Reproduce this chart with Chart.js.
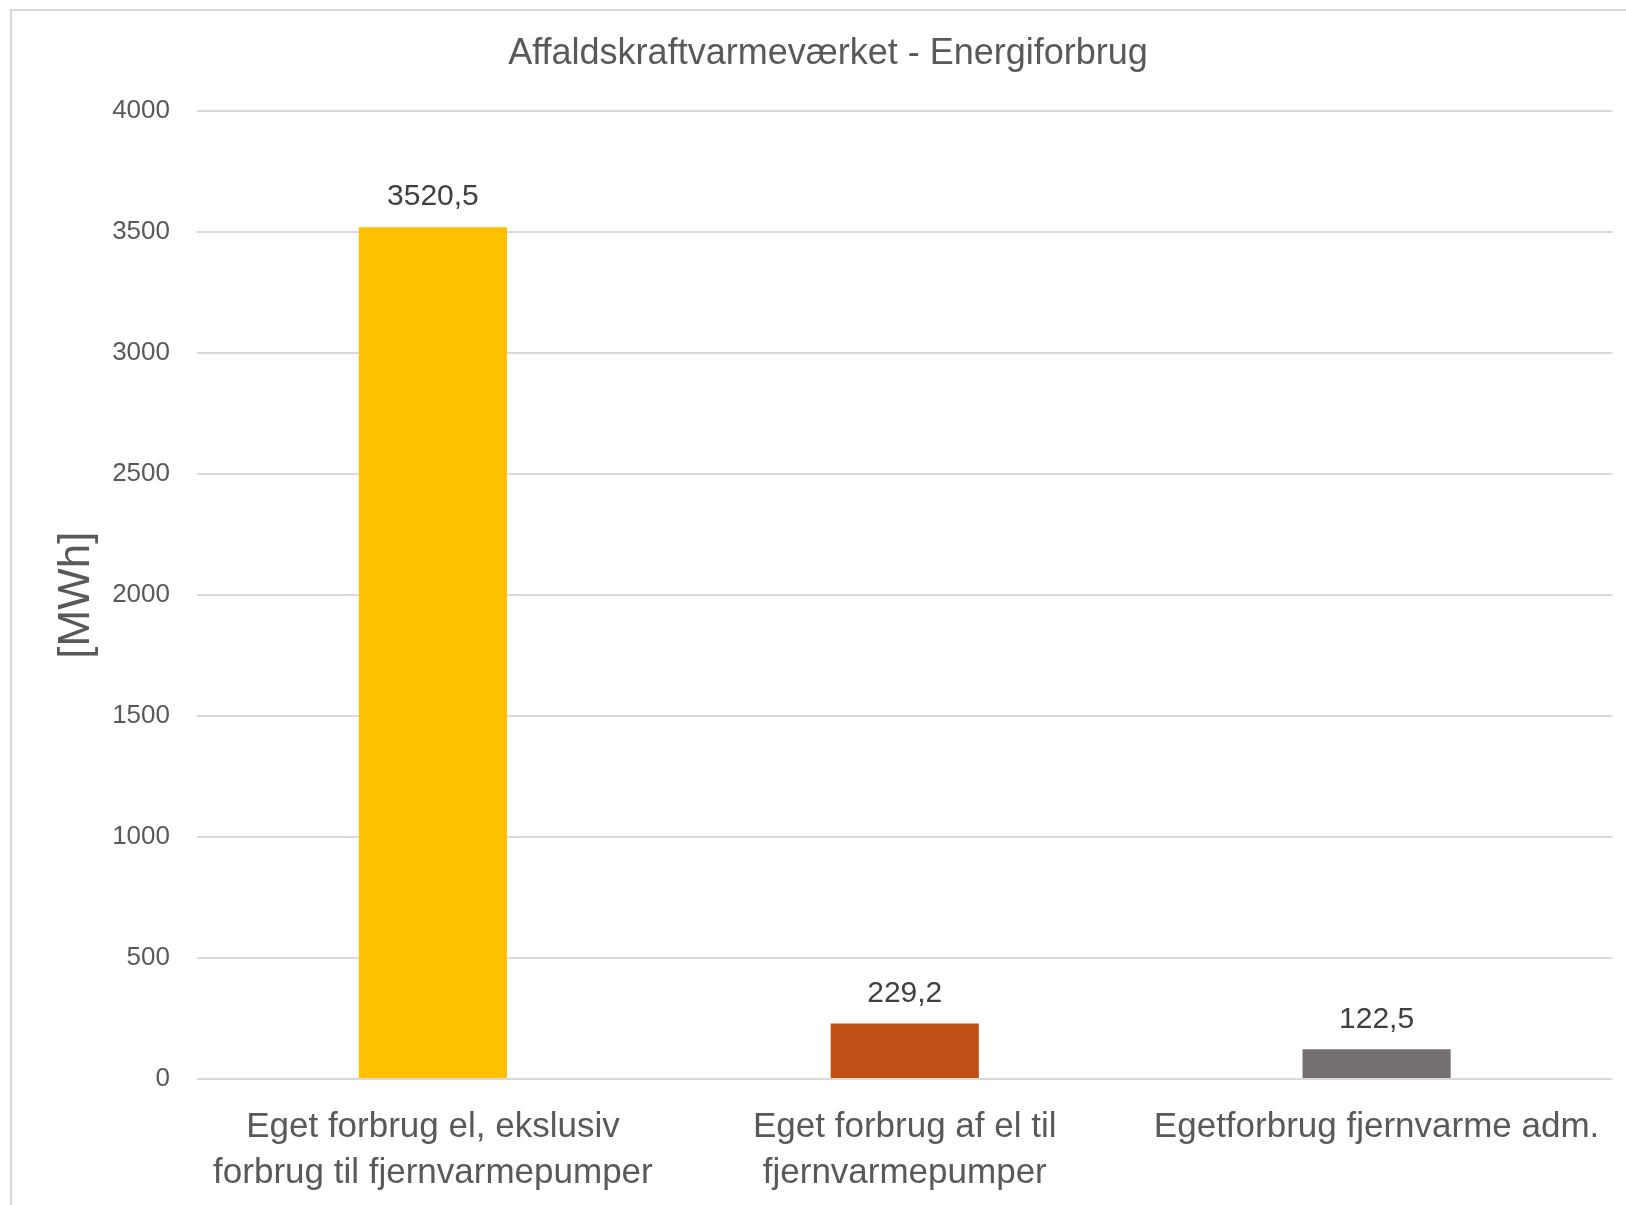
<!DOCTYPE html>
<html>
<head>
<meta charset="utf-8">
<script src="https://cdn.jsdelivr.net/npm/chart.js@4.4.1/dist/chart.umd.min.js"></script>
<style>
  html, body { margin: 0; padding: 0; background: #fff; }
  canvas { display: block; }
</style>
</head>
<body>
<canvas id="chart" width="1626" height="1205"></canvas>
<script>
// data
const categories = [
    ['Eget forbrug el, ekslusiv', 'forbrug til fjernvarmepumper'],
    ['Eget forbrug af el til', 'fjernvarmepumper'],
    'Egetforbrug fjernvarme adm.'
];
const values = [3520.5, 229.2, 122.5];
const barColors = ['#FFC000', '#C04F15', '#767171'];
const yTicks = [0, 500, 1000, 1500, 2000, 2500, 3000, 3500, 4000];

const fontFamily = '"Liberation Sans", Arial, sans-serif';
const textColor = '#595959';

// thin grey frame like the Excel chart area
const framePlugin = {
    id: 'frame',
    beforeDraw(chart) {
        const ctx = chart.ctx;
        ctx.save();
        ctx.fillStyle = '#fff';
        ctx.fillRect(0, 0, chart.width, chart.height);
        ctx.strokeStyle = '#D9D9D9';
        ctx.lineWidth = 2;
        ctx.strokeRect(11, 10, chart.width + 20, chart.height + 20);
        ctx.restore();
    }
};

// value labels above the bars (comma as decimal sign)
const valueLabels = {
    id: 'valueLabels',
    afterDatasetsDraw(chart) {
        const ctx = chart.ctx;
        const meta = chart.getDatasetMeta(0);
        ctx.save();
        ctx.font = '30px ' + fontFamily;
        ctx.fillStyle = '#404040';
        ctx.textAlign = 'center';
        ctx.textBaseline = 'middle';
        meta.data.forEach((bar, i) => {
            const txt = values[i].toFixed(1).replace('.', ',');
            ctx.fillText(txt, bar.x, bar.y - 30);
        });
        ctx.restore();
    }
};

new Chart(document.getElementById('chart').getContext('2d'), {
    type: 'bar',
    data: {
        labels: categories,
        datasets: [{
            data: values,
            backgroundColor: barColors,
            barPercentage: 1,
            categoryPercentage: 0.314
        }]
    },
    options: {
        responsive: false,
        animation: false,
        layout: { padding: { left: 40, right: 10, top: 0, bottom: 0 } },
        plugins: {
            legend: { display: false },
            tooltip: { enabled: false },
            title: {
                display: true,
                text: 'Affaldskraftvarmeværket - Energiforbrug',
                color: textColor,
                font: { family: fontFamily, size: 36, weight: 'normal', lineHeight: 1.2 },
                padding: { top: 32, bottom: 36 }
            }
        },
        scales: {
            x: {
                grid: { display: false, drawTicks: false },
                border: { display: false },
                ticks: {
                    color: textColor,
                    font: { family: fontFamily, size: 35, lineHeight: 1.33 },
                    padding: 25,
                    maxRotation: 0,
                    autoSkip: false
                },
                afterFit(scale) { scale.height = 126; }
            },
            y: {
                min: 0,
                max: 4000,
                afterBuildTicks(scale) { scale.ticks = yTicks.map(v => ({ value: v })); },
                grid: { color: '#D9D9D9', lineWidth: 2, drawTicks: false },
                border: { display: false },
                ticks: {
                    color: textColor,
                    font: { family: fontFamily, size: 26 },
                    padding: 27,
                    callback: (v) => String(v)
                },
                title: {
                    display: true,
                    text: '[MWh]',
                    color: textColor,
                    font: { family: fontFamily, size: 44, lineHeight: 1.2 },
                    padding: { top: 10, bottom: 0 }
                },
                afterFit(scale) { scale.width = 157; }
            }
        }
    },
    plugins: [framePlugin, valueLabels]
});
</script>
</body>
</html>
